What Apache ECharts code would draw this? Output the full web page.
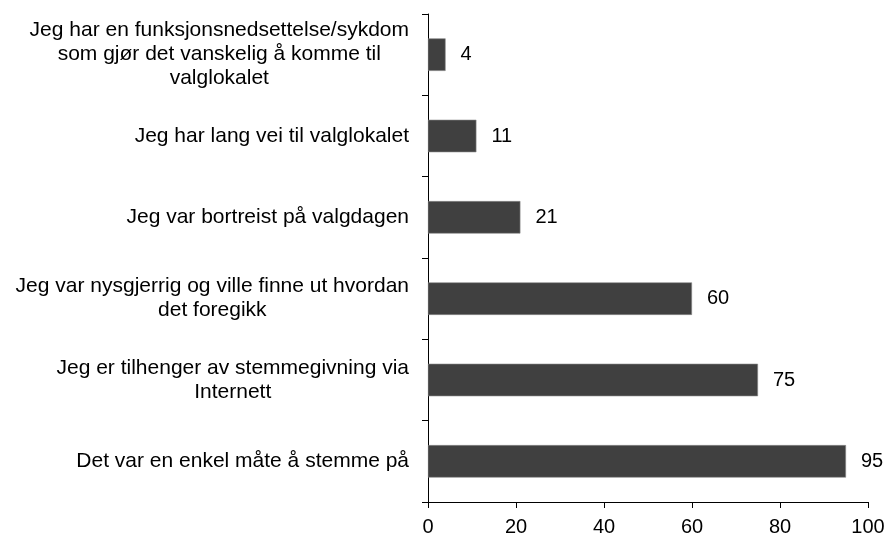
<!DOCTYPE html>
<html>
<head>
<meta charset="utf-8">
<script src="https://cdn.jsdelivr.net/npm/echarts@6/dist/echarts.min.js"></script>
<style>html,body{margin:0;padding:0;background:#fff}#c{width:888px;height:537px}</style>
</head>
<body>
<div id="c"></div>
<script>
const categories = [
  "Jeg har en funksjonsnedsettelse/sykdom\nsom gjør det vanskelig å komme til\nvalglokalet",
  "Jeg har lang vei til valglokalet",
  "Jeg var bortreist på valgdagen",
  "Jeg var nysgjerrig og ville finne ut hvordan\ndet foregikk",
  "Jeg er tilhenger av stemmegivning via\nInternett",
  "Det var en enkel måte å stemme på"
];
const values = [4, 11, 21, 60, 75, 95];
const xTicks = [0, 20, 40, 60, 80, 100];

const font = "'Liberation Sans', Arial, sans-serif";
const fs = 21;
const chart = echarts.init(document.getElementById('c'), null, {renderer: 'canvas'});
chart.setOption({
  animation: false,
  grid: {left: 428, right: 20, top: 14, bottom: 34, containLabel: false},
  xAxis: {
    type: 'value', min: xTicks[0], max: xTicks[xTicks.length - 1], interval: 20,
    axisLine: {show: true, lineStyle: {color: '#000', width: 1}},
    axisTick: {show: true, length: 6, lineStyle: {color: '#000'}},
    splitLine: {show: false},
    axisLabel: {color: '#000', fontFamily: font, fontSize: 20, margin: 15}
  },
  yAxis: {
    type: 'category', data: categories, inverse: true,
    axisLine: {show: true, lineStyle: {color: '#000', width: 1}},
    axisTick: {show: true, length: 6, lineStyle: {color: '#000'}},
    axisLabel: {
      color: '#000', fontFamily: font, fontSize: fs, margin: 19, align: 'right',
      formatter: v => v.split('\n').map(l => '{c|' + l + '}').join('\n'),
      rich: {c: {align: 'center', fontFamily: font, fontSize: fs, lineHeight: 24, color: '#000'}}
    }
  },
  series: [{
    type: 'bar', data: values, barWidth: '40%',
    itemStyle: {color: '#404040', borderColor: '#8a8a8a', borderWidth: 0.6},
    label: {show: true, position: 'right', distance: 15, color: '#000', fontFamily: font, fontSize: 20}
  }]
});
</script>
</body>
</html>
